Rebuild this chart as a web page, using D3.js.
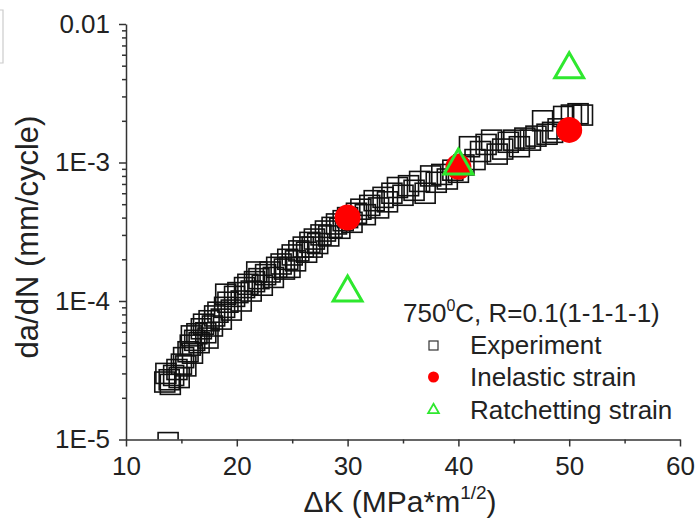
<!DOCTYPE html>
<html>
<head>
<meta charset="utf-8">
<title>da/dN vs dK</title>
<script src="https://cdn.jsdelivr.net/npm/d3@7/dist/d3.min.js"></script>
<style>
    body { margin: 0; background: #fff; }
    svg { font-family: "Liberation Sans", Arial, sans-serif; }
    .axis path, .axis line { stroke: #333; stroke-width: 1.5; }
    .axis text { fill: #222; font-size: 26px; font-family: "Liberation Sans", Arial, sans-serif; }
</style>
</head>
<body>
<svg width="700" height="531"></svg>
<script>
    // experiment (delta K, da/dN)
    const expK = [13.5, 13.6, 13.9, 14.0, 14.3, 14.6, 14.8, 15.0, 15.2, 15.4, 15.6, 15.8, 16.0, 16.2, 16.4,
        16.6, 16.8, 17.0, 17.2, 17.5, 17.8, 18.0, 18.3, 18.6, 18.9, 19.2, 19.5, 19.8, 20.1, 20.4,
        20.7, 21.0, 21.3, 21.6, 22.0, 22.3, 22.6, 23.0, 23.3, 23.6, 24.0, 24.3, 24.6, 25.0, 25.3,
        25.6, 26.0, 26.3, 26.6, 27.0, 27.3, 27.6, 28.0, 28.3, 28.6, 29.0, 29.3, 29.6, 30.0, 30.4,
        30.8, 31.2, 31.6, 32.0, 32.4, 32.8, 33.2, 33.6, 34.0, 34.5, 35.0, 35.5, 36.0, 36.5, 37.0,
        37.5, 38.0, 38.5, 39.0, 39.5, 40.0, 40.5, 41.0, 41.5, 42.0, 42.5, 43.0, 43.5, 44.0, 44.5,
        45.0, 45.5, 46.0, 46.5, 47.0, 47.6, 48.0, 48.5, 49.0, 49.5, 50.2, 50.8, 51.2, 13.8,
        15.9, 17.4, 19.0, 21.8, 24.8, 26.8];
    const expRate = [2.6e-5, 3.0e-5, 2.7e-5, 2.5e-5, 2.9e-5, 3.2e-5, 2.8e-5, 3.5e-5, 3.9e-5, 3.4e-5, 4.3e-5, 4.8e-5, 4.2e-5, 5.2e-5, 5.8e-5,
        5.0e-5, 6.3e-5, 6.8e-5, 5.9e-5, 7.2e-5, 6.6e-5, 7.8e-5, 8.3e-5, 7.4e-5, 9.0e-5, 9.8e-5, 8.6e-5, 1.08e-4, 1.15e-4, 1.0e-4,
        1.25e-4, 1.32e-4, 1.18e-4, 1.38e-4, 1.45e-4, 1.30e-4, 1.55e-4, 1.62e-4, 1.48e-4, 1.75e-4, 1.85e-4, 1.70e-4, 2.0e-4, 2.15e-4, 1.95e-4,
        2.3e-4, 2.45e-4, 2.25e-4, 2.65e-4, 2.8e-4, 2.6e-4, 3.0e-4, 3.2e-4, 2.95e-4, 3.4e-4, 3.6e-4, 3.35e-4, 3.8e-4, 4.0e-4, 3.7e-4,
        4.3e-4, 4.6e-4, 4.2e-4, 4.9e-4, 5.3e-4, 4.7e-4, 5.6e-4, 5.2e-4, 6.0e-4, 6.6e-4, 5.8e-4, 6.8e-4, 6.3e-4, 7.3e-4, 6.0e-4,
        8.0e-4, 7.2e-4, 8.2e-4, 7.6e-4, 8.8e-4, 8.5e-4, 9.6e-4, 1.3e-3, 1.05e-3, 1.2e-3, 1.35e-3, 1.45e-3, 1.15e-3, 1.25e-3, 1.4e-3,
        1.45e-3, 1.3e-3, 1.5e-3, 1.45e-3, 1.55e-3, 2.0e-3, 1.6e-3, 1.65e-3, 1.75e-3, 2.15e-3, 2.2e-3, 2.25e-3, 2.2e-3, 9.5e-6,
        5.6e-5, 5.4e-5, 1.12e-4, 1.62e-4, 1.75e-4, 2.45e-4];

    const inelasticK = [30, 40, 50];
    const inelasticRate = [4.0e-4, 9.3e-4, 1.72e-3];

    const ratchetK = [30, 40, 50];
    const ratchetRate = [1.15e-4, 9.5e-4, 4.7e-3];

    const xTicks = [10, 20, 30, 40, 50, 60];
    const xMinor = [15, 25, 35, 45, 55];
    const yTicks = [1e-5, 1e-4, 1e-3, 1e-2];
    const yTickLabels = ['1E-5', '1E-4', '1E-3', '0.01'];
    const legendLabels = ['Experiment', 'Inelastic strain', 'Ratchetting strain'];

    const svg = d3.select('svg');

    const x = d3.scaleLinear().domain([10, 60]).range([126, 680]);
    const y = d3.scaleLog().domain([1e-5, 1e-2]).range([439.5, 24]);

    // minor ticks for log axis
    const yMinor = [];
    [1e-5, 1e-4, 1e-3].forEach(d => { for (let i = 2; i <= 9; i++) yMinor.push(d * i); });

    // faint frame corner at top left
    svg.append('path')
        .attr('d', 'M0,10H3V63H0')
        .attr('fill', 'none')
        .attr('stroke', '#ccc')
        .attr('stroke-width', 1.2);

    svg.append('clipPath').attr('id', 'plot')
        .append('rect')
        .attr('x', 126).attr('y', 0)
        .attr('width', 600).attr('height', 439.5);

    const marks = svg.append('g').attr('clip-path', 'url(#plot)');

    // experiment squares
    marks.selectAll('.exp')
        .data(expK.map((k, i) => [k, expRate[i]]))
        .enter()
        .append('rect')
        .attr('x', d => x(d[0]) - 10)
        .attr('y', d => y(d[1]) - 10)
        .attr('width', 20)
        .attr('height', 20)
        .attr('fill', 'none')
        .attr('stroke', '#111')
        .attr('stroke-width', 1.6);

    marks.selectAll('.inel')
        .data(inelasticK.map((k, i) => [k, inelasticRate[i]]))
        .enter()
        .append('circle')
        .attr('cx', d => x(d[0]))
        .attr('cy', d => y(d[1]))
        .attr('r', 13)
        .attr('fill', '#f00');

    const tri = d3.symbol().type(d3.symbolTriangle).size(360);
    marks.selectAll('.ratch')
        .data(ratchetK.map((k, i) => [k, ratchetRate[i]]))
        .enter()
        .append('path')
        .attr('d', tri)
        .attr('transform', d => `translate(${x(d[0])},${y(d[1])})`)
        .attr('fill', 'none')
        .attr('stroke', '#2ee82e')
        .attr('stroke-width', 3);

    // axes
    svg.append('g')
        .attr('class', 'axis')
        .attr('transform', 'translate(0,439.5)')
        .call(d3.axisBottom(x).tickValues(xMinor).tickSize(4).tickFormat('').tickSizeOuter(0))
        .select('.domain').remove();

    svg.append('g')
        .attr('class', 'axis')
        .attr('transform', 'translate(0,439.5)')
        .call(d3.axisBottom(x).tickValues(xTicks).tickSize(7).tickPadding(10).tickSizeOuter(0));

    svg.append('g')
        .attr('class', 'axis')
        .attr('transform', 'translate(126,0)')
        .call(d3.axisLeft(y).tickValues(yMinor).tickSize(4).tickFormat('').tickSizeOuter(0))
        .select('.domain').remove();

    svg.append('g')
        .attr('class', 'axis')
        .attr('transform', 'translate(126,0)')
        .call(d3.axisLeft(y).tickValues(yTicks).tickSize(7).tickPadding(9).tickSizeOuter(0)
            .tickFormat((d, i) => yTickLabels[i]));

    // axis titles
    svg.append('text')
        .attr('transform', 'translate(38,237) rotate(-90)')
        .attr('text-anchor', 'middle')
        .attr('font-size', 31)
        .attr('fill', '#222')
        .text('da/dN (mm/cycle)');

    const xt = svg.append('text')
        .attr('x', 400)
        .attr('y', 512)
        .attr('text-anchor', 'middle')
        .attr('font-size', 30)
        .attr('fill', '#222');
    xt.append('tspan').text('\u0394K  (MPa*m');
    xt.append('tspan').attr('font-size', 19).attr('dy', -13).text('1/2');
    xt.append('tspan').attr('dy', 13).text(')');

    // legend
    const lg = svg.append('g');
    const head = lg.append('text')
        .attr('x', 403).attr('y', 322)
        .attr('font-size', 26).attr('fill', '#222');
    head.append('tspan').text('750');
    head.append('tspan').attr('font-size', 16).attr('dy', -11).text('0');
    head.append('tspan').attr('dy', 11).text('C, R=0.1(1-1-1-1)');

    const rowY = [345, 377, 410];
    legendLabels.forEach((t, i) => {
        lg.append('text')
            .attr('x', 470).attr('y', rowY[i] + 9)
            .attr('font-size', 26).attr('fill', '#222')
            .text(t);
    });
    lg.append('rect')
        .attr('x', 429).attr('y', rowY[0] - 4)
        .attr('width', 9).attr('height', 9)
        .attr('fill', 'none').attr('stroke', '#333').attr('stroke-width', 1.2);
    lg.append('circle')
        .attr('cx', 433.5).attr('cy', rowY[1])
        .attr('r', 5.5).attr('fill', '#f00');
    lg.append('path')
        .attr('d', d3.symbol().type(d3.symbolTriangle).size(50))
        .attr('transform', `translate(433.5,${rowY[2]})`)
        .attr('fill', 'none').attr('stroke', '#2ee82e').attr('stroke-width', 1.8);
</script>
</body>
</html>
